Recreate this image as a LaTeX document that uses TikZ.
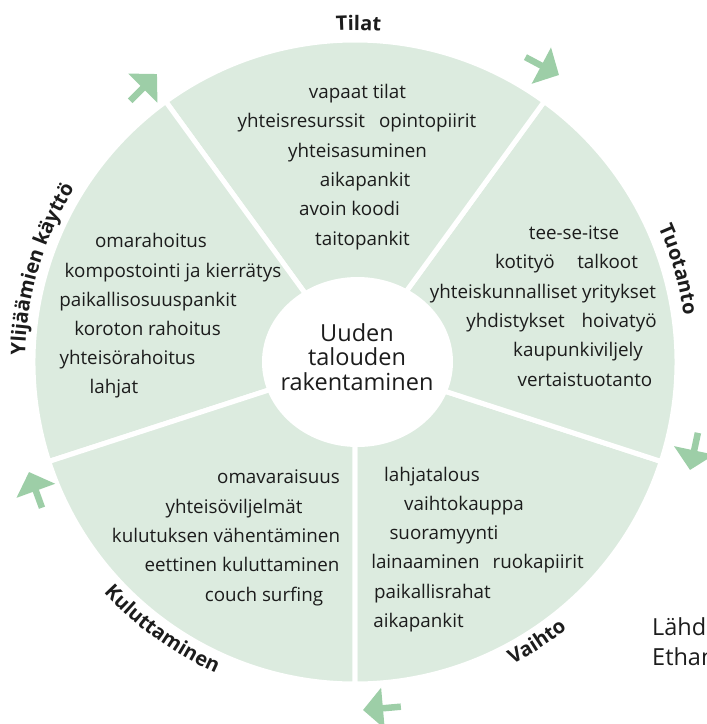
\documentclass[tikz,border=0pt]{standalone}
\usepackage{fontspec}
\setmainfont{Open Sans}
\usetikzlibrary{arrows.meta, calc, shapes.geometric, decorations.text}
\definecolor{sectorgreen}{RGB}{220,235,223}
\definecolor{arrowgreen}{RGB}{157,206,167}
\definecolor{inkgray}{RGB}{28,28,28}
\newcommand{\itemfont}{\fontsize{18.8}{22}\selectfont}
\newcommand{\hubfont}{\fontsize{23.5}{24.3}\selectfont}
\newcommand{\sectorfont}{\fontsize{20}{24}\selectfont\bfseries}
\newcommand{\wordgap}{\hspace{0.75em}}

\tikzset{
  sector/.style={fill=sectorgreen, draw=white, line width=5pt},
  item/.style={font=\itemfont, text=inkgray, anchor=base, inner sep=0pt},
  flowarrow/.style={draw=arrowgreen, line width=6.5pt, -{Triangle[length=20pt, width=40pt]}},
}

\begin{document}
\begin{tikzpicture}[x=1pt, y=1pt]
  \useasboundingbox (-355,-362) rectangle (352,362);

  % Wheel sectors
  \foreach \a in {-90,-18,54,126,198}
    \filldraw[sector] (0,0) -- (\a:322) arc[start angle=\a, end angle=\a+72, radius=322] -- cycle;

  % Hub
  \node[ellipse, fill=white, minimum width=191pt, minimum height=170pt, inner sep=0pt] (hub) at (2.5,0) {};
  \node[font=\hubfont, text=inkgray, align=center, inner sep=0pt] (hubtext) at (2,5) {Uuden\\talouden\\rakentaminen};

  % Tilat
  \foreach \x/\y/\t [count=\i] in {2.5/264/vapaat tilat, 2/234.5/yhteisresurssit\wordgap opintopiirit, 2.5/205/yhteisasuminen, 10/176/aikapankit, -5.5/147/avoin koodi, 7.5/117/taitopankit}
    \node[item] (tilat\i) at (\x,\y) {\t};

  % Tuotanto
  \foreach \x/\y/\t [count=\i] in {219/123/tee-se-itse, 211.5/94/kotityö\hspace{1.2em}talkoot, 188/64/yhteiskunnalliset yritykset, 206.5/35/yhdistykset\hspace{0.9em}hoivatyö, 223/6/kaupunkiviljely, 230/-24/vertaistuotanto}
    \node[item] (tuotanto\i) at (\x,\y) {\t};

  % Vaihto
  \foreach \x/\y/\t [count=\i] in {77/-119/lahjatalous, 109/-148/vaihtokauppa, 89/-177/suoramyynti, 122.5/-206/lainaaminen\hspace{0.7em}ruokapiirit, 77.5/-236/paikallisrahat, 63.5/-265/aikapankit}
    \node[item] (vaihto\i) at (\x,\y) {\t};

  % Kuluttaminen
  \foreach \x/\y/\t [count=\i] in {-76.5/-121/omavaraisuus, -121/-151/yhteisöviljelmät, -129/-180/kulutuksen vähentäminen, -113/-209/eettinen kuluttaminen, -91/-239/couch surfing}
    \node[item] (kulutus\i) at (\x,\y) {\t};

  % Ylijäämien käyttö
  \foreach \x/\y/\t [count=\i] in {-204/115/omarahoitus, -182/85/kompostointi ja kierrätys, -207/56/paikallisosuuspankit, -207.5/27/koroton rahoitus, -227.5/-2.5/yhteisörahoitus, -241/-31/lahjat}
    \node[item] (ylijaama\i) at (\x,\y) {\t};

  % Sector titles along the rim
  \path[decorate, decoration={text along path, text align=center, text={|\sectorfont\color{inkgray}|Tilat}}]
    (129.4:332) arc[start angle=129.4, end angle=49.4, radius=332];
  \path[decorate, decoration={text along path, text align=center, text={|\sectorfont\color{inkgray}|Tuotanto}}]
    (56:332) arc[start angle=56, end angle=-24, radius=332];
  \path[decorate, decoration={text along path, text align=center, text={|\sectorfont\color{inkgray}|Vaihto}}]
    (263:341) arc[start angle=263, end angle=343, radius=341];
  \path[decorate, decoration={text along path, text align=center, text={|\sectorfont\color{inkgray}|Kuluttaminen}}]
    (194.2:341) arc[start angle=194.2, end angle=274.2, radius=341];
  \path[decorate, decoration={text along path, text align=center, text={|\sectorfont\color{inkgray}|Ylijäämien käyttö}}]
    (213.5:330) arc[start angle=213.5, end angle=113.5, radius=330];

  % Cycle arrows
  \foreach \tx/\ty/\d [count=\i] in {-198/288/45, 204/287/-28, 335/-108/-102, 8/-348/185, -326/-110/110} {
    \coordinate (tip\i) at (\tx,\ty);
    \draw[flowarrow] ($(tip\i)+(\d+180:38)$) -- (tip\i);
  }

  % Source
  \node[font=\hubfont, text=inkgray, anchor=base west, inner sep=0pt] (source1) at (297,-273) {Lähde:};
  \node[font=\hubfont, text=inkgray, anchor=base west, inner sep=0pt] (source2) at (297,-303) {Ethan Miller};
\end{tikzpicture}
\end{document}
